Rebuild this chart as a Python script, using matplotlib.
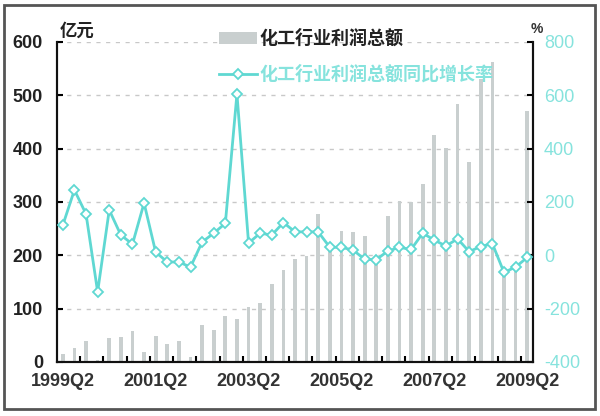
import matplotlib
matplotlib.use("Agg")
import matplotlib.pyplot as plt
from matplotlib.patches import Rectangle, Patch
from matplotlib.lines import Line2D

# ---- data ----
quarters = [f"{1999 + (q + 1) // 4}Q{(q + 1) % 4 + 1}" for q in range(41)]  # 1999Q2 .. 2009Q2
profit = [15, 26, 39, 3, 45, 47, 58, 18, 49, 33, 39, 10, 69, 60, 86, 80, 104, 110,
          146, 172, 193, 199, 277, 215, 246, 244, 237, 195, 274, 302, 300, 334, 426,
          401, 484, 375, 530, 563, 170, 180, 471]
growth = [113, 245, 155, -137, 170, 76, 42, 196, 12, -25, -25, -44, 50, 83, 120, 605,
          46, 83, 76, 123, 88, 88, 88, 30, 30, 20, -15, -16, 16, 30, 22, 83, 57, 35,
          62, 14, 33, 44, -64, -44, -8]
label_quarters = ["1999Q2", "2001Q2", "2003Q2", "2005Q2", "2007Q2", "2009Q2"]
left_ticks = [0, 100, 200, 300, 400, 500, 600]
right_ticks = [-400, -200, 0, 200, 400, 600, 800]
bar_name = "化工行业利润总额"
line_name = "化工行业利润总额同比增长率"

CJK = ["Noto Sans CJK SC", "DejaVu Sans"]
NUM = ["Liberation Sans Narrow", "Liberation Sans", "DejaVu Sans"]
cyan = "#5fd8d2"
cyan_txt = "#86e3dd"
bar_col = "#c9cfcf"

fig = plt.figure(figsize=(6.0, 4.16), dpi=100)
ax = fig.add_axes([57 / 600, 1 - 362 / 416, (533 - 57) / 600, (362 - 42) / 416])
ax2 = ax.twinx()

x = list(range(len(quarters)))
ax.bar(x, profit, width=0.32, color=bar_col, zorder=2)
ax.set_ylim(0, 600)
ax.set_xlim(-0.5, len(quarters) - 0.5)
for v in left_ticks[1:]:
    ax.axhline(v, color="#c8c8c8", lw=1.0, ls=(0, (3, 4)), zorder=1)

ax2.plot(x, growth, color=cyan, lw=2.0, marker="D", ms=5.5, mfc="white",
         mec=cyan, mew=1.3, zorder=3)
ax2.set_ylim(-400, 800)

# ticks
ax.set_yticks(left_ticks)
ax.set_yticklabels([str(v) for v in left_ticks], fontfamily=NUM, fontsize=13,
                   fontweight="bold", color="#222222")
ax2.set_yticks(right_ticks)
ax2.set_yticklabels([str(v) for v in right_ticks], fontfamily=NUM, fontsize=13,
                    color=cyan_txt)
ax.tick_params(axis="y", direction="in", length=4, width=1.5, pad=10)
ax2.tick_params(axis="y", direction="in", length=4, width=1.5, pad=8)

pos = [quarters.index(q) for q in label_quarters]
ax.set_xticks(pos)
ax.set_xticklabels(label_quarters, fontfamily=NUM, fontsize=13, fontweight="bold",
                   color="#333333")
ax.set_xticks([i + 0.5 for i in range(1, len(quarters) - 1, 2)], minor=True)
ax.tick_params(axis="x", which="major", length=0, pad=8)
ax.tick_params(axis="x", which="minor", direction="in", length=4, width=1.5)

for a in (ax, ax2):
    a.spines["top"].set_visible(False)
    for s in ("left", "right", "bottom"):
        a.spines[s].set_linewidth(1.5)
        a.spines[s].set_color("#111111")

# axis unit labels
fig.text(60 / 600, 1 - 31 / 416, "亿元", fontfamily=CJK, fontsize=12.5,
         fontweight="bold", ha="left", va="center", color="#222222")
fig.text(537 / 600, 1 - 29 / 416, "%", fontfamily=NUM, fontsize=10,
         fontweight="bold", ha="center", va="center", color="#333333")

# legend
handles = [Patch(facecolor=bar_col, edgecolor="none"),
           Line2D([0], [0], color=cyan, lw=2.0, marker="D", ms=5.5, mfc="white",
                  mec=cyan, mew=1.3)]
leg = fig.legend(handles, [bar_name, line_name], loc="upper left",
                 bbox_to_anchor=(203 / 600, 1 - 13 / 416), frameon=False,
                 prop={"family": CJK, "size": 13, "weight": "bold"},
                 handlelength=2.1, handletextpad=0.15, labelspacing=0.93)
leg.get_texts()[0].set_color("#222222")
leg.get_texts()[1].set_color(cyan_txt)

# outer frame
fig.patches.append(Rectangle((4 / 600, 1 - 409 / 416), 591 / 600, 404 / 416,
                             transform=fig.transFigure, fill=False,
                             edgecolor="#555555", lw=2))

fig.savefig("out.png", dpi=100)
